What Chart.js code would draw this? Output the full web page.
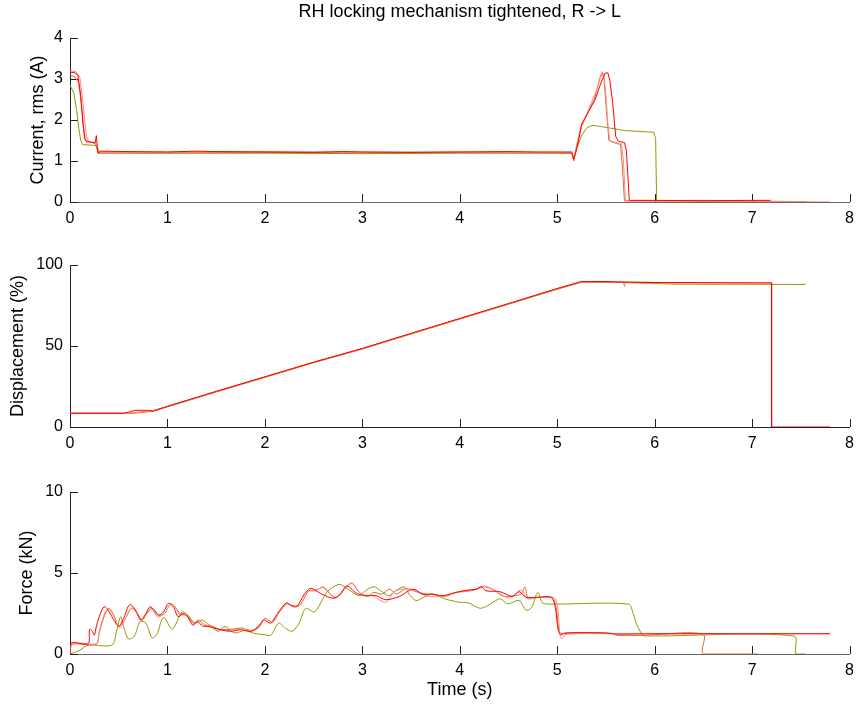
<!DOCTYPE html>
<html><head><meta charset="utf-8">
<script src="https://cdn.jsdelivr.net/npm/chart.js@4.4.0/dist/chart.umd.min.js"></script>
<style>
html,body{margin:0;padding:0;background:#fff;}
#wrap{position:relative;width:861px;height:707px;overflow:hidden;}
canvas{position:absolute;left:0;}
</style></head><body>
<div id="wrap">
<canvas id="c1" width="861" height="226" style="top:0px"></canvas>
<canvas id="c2" width="861" height="225" style="top:226px"></canvas>
<canvas id="c3" width="861" height="256" style="top:451px"></canvas>
</div>
<script>
// ---------- tick labels / texts ----------
const chartTitle = 'RH locking mechanism tightened, R -> L';
const xLabel = 'Time (s)';
const yLabels = ['Current, rms (A)', 'Displacement (%)', 'Force (kN)'];
const xTicks = [0, 1, 2, 3, 4, 5, 6, 7, 8];
const currentTicks = [0, 1, 2, 3, 4];
const dispTicks = [0, 50, 100];
const forceTicks = [0, 5, 10];
const seriesColors = ['#ff0000', '#ff8a80', '#d4703c', '#979700'];

// ---------- Current, rms (A) : [time, value] ----------
const curRed = [[0,3.17],[0.05,3.15],[0.08,3.1],[0.11,2.6],[0.13,2.0],[0.15,1.55],[0.17,1.47],[0.26,1.45],[0.27,1.62],[0.28,1.35],[0.29,1.18],[0.31,1.24],[0.6,1.23],[1,1.22],[1.3,1.24],[1.5,1.23],[2,1.22],[2.5,1.21],[2.8,1.23],[3,1.22],[3.5,1.21],[4,1.22],[4.5,1.23],[4.8,1.22],[5,1.22],[5.15,1.22],[5.17,1.05],[5.2,1.3],[5.22,1.5],[5.25,1.9],[5.32,2.2],[5.39,2.5],[5.44,2.85],[5.49,3.14],[5.52,3.15],[5.54,2.96],[5.57,2.4],[5.6,1.6],[5.63,1.48],[5.69,1.45],[5.71,1.25],[5.74,0.04],[6,0.04],[6.5,0.03],[7,0.04],[7.19,0.04]];
const curPink = [[0,3.2],[0.06,3.18],[0.1,3.05],[0.13,2.5],[0.15,2.0],[0.17,1.6],[0.19,1.48],[0.26,1.43],[0.28,1.35],[0.3,1.22],[1,1.22],[2,1.23],[3,1.22],[4,1.22],[5,1.21],[5.15,1.2],[5.17,1.05],[5.2,1.35],[5.23,1.7],[5.27,1.95],[5.33,2.3],[5.4,2.7],[5.44,3.05],[5.46,3.18],[5.48,3.1],[5.5,2.6],[5.52,1.9],[5.54,1.5],[5.6,1.45],[5.66,1.42],[5.68,1.0],[5.7,0.03],[6,0.02],[7,0.02],[7.8,0.0]];
const curBrown = [[0,3.1],[0.05,3.05],[0.09,2.9],[0.12,2.3],[0.14,1.8],[0.16,1.5],[0.26,1.42],[0.29,1.2],[1,1.2],[2,1.21],[3,1.2],[4,1.21],[5,1.2],[5.15,1.19],[5.17,1.0],[5.2,1.4],[5.25,1.85],[5.32,2.2],[5.38,2.5],[5.43,2.95],[5.46,3.15],[5.48,3.0],[5.51,2.1],[5.53,1.5],[5.58,1.45],[5.65,1.4],[5.67,0.8],[5.69,0.03],[6.5,0.04],[7.05,0.02]];
const curOlive = [[0,2.85],[0.04,2.65],[0.07,2.2],[0.09,1.8],[0.11,1.5],[0.13,1.4],[0.27,1.38],[0.29,1.2],[0.31,1.19],[1,1.19],[2,1.19],[3,1.18],[4,1.19],[5,1.19],[5.15,1.18],[5.17,1.02],[5.2,1.3],[5.25,1.62],[5.3,1.8],[5.36,1.87],[5.45,1.84],[5.55,1.8],[5.7,1.74],[5.85,1.72],[5.99,1.7],[6.01,1.55],[6.02,0.03],[6.5,0.02],[7,0.02],[7.55,0.01]];

// ---------- Displacement (%) ----------
const dispRed = [[0,8.5],[0.55,8.5],[0.62,9.5],[0.67,10.3],[0.8,10.3],[0.85,9.8],[1,12.8],[1.5,22],[2,31],[2.5,40],[3,48.5],[3.5,57.8],[4,67],[4.5,76.2],[5,85.5],[5.25,89.8],[5.5,89.8],[5.6,89.5],[6,89.2],[7,89],[7.2,89],[7.2,0],[7.8,0]];
const dispPink = [[0,8.6],[0.6,8.6],[0.85,10],[1,12.7],[1.5,21.9],[2,30.9],[2.5,40],[3,48.4],[3.5,57.7],[4,66.9],[4.5,76.1],[5,85.4],[5.25,89.7],[5.55,89.7],[5.68,89.3],[5.69,86.5],[5.7,89.2],[6,89],[7,88.9],[7.2,88.9]];
const dispBrown = [[0,8.4],[0.6,8.4],[0.85,9.9],[1,12.6],[1.5,21.8],[2,30.8],[2.5,39.9],[3,48.3],[3.5,57.6],[4,66.8],[4.5,76],[5,85.3],[5.25,89.6],[5.6,89.5],[6.1,89.2],[6.24,89]];
const dispOlive = [[0,8.3],[0.6,8.3],[0.85,9.6],[1,12.4],[1.5,21.6],[2,30.6],[2.5,39.7],[3,48.1],[3.5,57.4],[4,66.6],[4.5,75.8],[5,85],[5.25,89.4],[5.6,89.3],[6.2,88.2],[7.55,88]];

// ---------- Force (kN) ----------
const forceRed = [[0,0.05],[0.01,0.66],[0.05,0.7],[0.1,0.65],[0.19,0.65],[0.2,1.52],[0.23,1.4],[0.25,1.17],[0.27,1.68],[0.3,2.3],[0.35,2.92],[0.39,2.72],[0.44,2.2],[0.5,1.72],[0.55,2.2],[0.6,2.97],[0.63,3.03],[0.68,2.63],[0.73,2.1],[0.78,2.5],[0.82,2.92],[0.87,2.68],[0.91,2.4],[0.96,2.6],[1.01,3.13],[1.06,2.92],[1.11,2.3],[1.16,2.5],[1.21,2.26],[1.26,1.78],[1.31,2.0],[1.36,1.72],[1.41,1.7],[1.48,1.6],[1.57,1.46],[1.65,1.4],[1.75,1.5],[1.86,1.4],[1.92,1.6],[1.99,2.1],[2.06,1.9],[2.13,2.5],[2.22,3.17],[2.26,3.03],[2.33,2.97],[2.4,3.65],[2.47,4.06],[2.54,3.85],[2.6,3.65],[2.7,3.44],[2.77,3.65],[2.84,4.2],[2.94,3.75],[3.03,3.6],[3.14,3.6],[3.24,3.35],[3.38,3.55],[3.52,4.0],[3.62,3.7],[3.72,3.7],[3.82,3.6],[3.93,3.75],[4.06,3.93],[4.17,4.0],[4.22,4.15],[4.27,3.9],[4.41,3.85],[4.54,3.55],[4.61,3.85],[4.68,3.5],[4.8,3.5],[4.94,3.5],[4.98,2.9],[5.01,1.48],[5.04,1.17],[5.08,1.3],[5.5,1.3],[5.6,1.23],[6,1.25],[7,1.25],[7.8,1.25]];
const forcePink = [[0,0.05],[0.02,0.65],[0.1,0.68],[0.27,0.65],[0.3,1.4],[0.36,2.6],[0.4,2.8],[0.45,2.3],[0.51,1.6],[0.57,2.2],[0.63,2.85],[0.68,2.6],[0.72,2.1],[0.78,2.5],[0.83,2.8],[0.9,2.3],[0.97,2.5],[1.03,3.1],[1.08,2.85],[1.13,2.4],[1.19,2.4],[1.27,1.85],[1.33,2.05],[1.38,1.75],[1.45,1.7],[1.53,1.5],[1.62,1.45],[1.7,1.5],[1.77,1.6],[1.86,1.42],[1.95,1.7],[2.0,2.2],[2.08,1.95],[2.15,2.6],[2.22,3.1],[2.3,2.9],[2.36,3.0],[2.44,3.85],[2.52,3.9],[2.6,4.15],[2.66,3.8],[2.72,3.45],[2.8,3.9],[2.89,4.4],[2.99,3.7],[3.1,3.6],[3.24,3.2],[3.34,3.9],[3.5,4.0],[3.65,3.6],[3.82,3.55],[3.99,3.85],[4.13,3.93],[4.25,4.2],[4.37,3.9],[4.51,3.45],[4.63,3.95],[4.7,3.4],[4.82,3.5],[4.98,3.4],[5.03,1.1],[5.05,0.95],[5.09,1.22],[5.6,1.25],[6,1.25],[7,1.25],[7.8,1.25]];
const forceBrown = [[0,0.05],[0.02,0.6],[0.27,0.6],[0.3,1.3],[0.35,2.3],[0.4,2.8],[0.45,2.4],[0.5,1.7],[0.56,2.1],[0.63,2.8],[0.69,2.5],[0.74,2.1],[0.8,2.6],[0.84,2.8],[0.9,2.4],[0.97,2.5],[1.03,3.1],[1.08,2.9],[1.13,2.5],[1.2,2.4],[1.27,1.9],[1.32,2.1],[1.38,1.8],[1.45,1.75],[1.52,1.55],[1.6,1.5],[1.68,1.55],[1.77,1.6],[1.86,1.45],[1.95,1.8],[2.0,2.2],[2.07,2.0],[2.15,2.6],[2.23,3.1],[2.3,2.9],[2.37,3.1],[2.45,3.9],[2.52,3.95],[2.6,4.1],[2.67,3.7],[2.73,3.5],[2.8,3.9],[2.89,4.35],[2.97,3.8],[3.05,3.55],[3.12,3.8],[3.2,3.7],[3.28,4.0],[3.35,3.7],[3.45,4.05],[3.55,3.85],[3.65,3.7],[3.75,3.65],[3.85,3.55],[3.95,3.8],[4.05,3.85],[4.15,3.95],[4.25,4.15],[4.35,3.95],[4.45,3.55],[4.55,3.6],[4.63,3.7],[4.67,4.15],[4.7,3.5],[4.8,3.5],[4.95,3.45],[4.99,2.8],[5.02,1.4],[5.05,1.25],[5.1,1.28],[5.55,1.28],[5.62,1.15],[5.9,1.15],[6.0,1.2],[6.5,1.2],[6.5,0],[7.06,0]];
const forceOlive = [[0,0],[0.09,0.2],[0.19,0.55],[0.43,0.55],[0.48,1.48],[0.52,2.3],[0.55,1.7],[0.6,0.93],[0.66,1.1],[0.72,2.0],[0.78,1.9],[0.84,1.0],[0.89,1.2],[0.96,2.26],[1.05,1.54],[1.15,2.6],[1.21,2.4],[1.28,1.9],[1.35,2.1],[1.43,1.8],[1.52,1.4],[1.59,1.7],[1.69,1.3],[1.79,1.45],[1.89,1.27],[1.99,1.2],[2.06,1.15],[2.14,1.9],[2.21,1.6],[2.28,1.4],[2.35,1.9],[2.42,2.82],[2.51,2.6],[2.64,3.85],[2.76,4.3],[2.83,4.1],[2.89,3.85],[2.97,3.6],[3.03,3.9],[3.12,4.15],[3.19,3.9],[3.27,3.6],[3.34,3.9],[3.43,4.15],[3.48,3.7],[3.55,3.3],[3.63,3.5],[3.72,3.7],[3.85,3.4],[3.99,3.2],[4.09,3.15],[4.2,2.83],[4.26,2.9],[4.37,3.3],[4.42,3.4],[4.49,3.1],[4.61,3.3],[4.68,2.7],[4.74,2.9],[4.8,3.8],[4.85,3.15],[4.94,3.08],[5.73,3.08],[5.78,2.5],[5.81,1.9],[5.86,1.3],[5.89,1.12],[7.43,1.11],[7.45,0],[7.55,0]];

// ---------- setup ----------
Chart.defaults.font.family = "'Liberation Sans', Arial, Helvetica, sans-serif";
Chart.defaults.font.size = 16;
Chart.defaults.color = '#000';

const inwardTicks = {
  id: 'inwardTicks',
  beforeDatasetsDraw(chart) {
    const ctx = chart.ctx, a = chart.chartArea;
    const xs = chart.scales.x, ys = chart.scales.y;
    ctx.save();
    ctx.strokeStyle = '#222';
    ctx.lineWidth = 1;
    ctx.beginPath();
    xs.ticks.forEach(t => {
      const px = Math.round(xs.getPixelForValue(t.value)) + 0.5;
      ctx.moveTo(px, a.bottom); ctx.lineTo(px, a.bottom - 8);
    });
    ys.ticks.forEach(t => {
      const py = Math.round(ys.getPixelForValue(t.value)) + 0.5;
      ctx.moveTo(a.left, py); ctx.lineTo(a.left + 8, py);
    });
    ctx.stroke();
    ctx.restore();
  }
};

function toXY(arr) { return arr.map(p => ({x: p[0], y: p[1]})); }

function makeChart(id, series, yTicks, yTitle, yTitlePad, padTop, xHeight, xAxisColor, tension, extra) {
  const ds = series.map((s, i) => ({
    data: toXY(s), borderColor: seriesColors[i], borderWidth: 1,
    pointRadius: 0, fill: false, tension: tension
  }));
  const cfg = {
    type: 'line',
    data: { datasets: ds },
    options: {
      responsive: false, animation: false,
      layout: { padding: { left: 0, right: 9, top: padTop, bottom: 0 } },
      plugins: { legend: { display: false }, tooltip: { enabled: false }, title: { display: false } },
      scales: {
        x: {
          type: 'linear', min: xTicks[0], max: xTicks[xTicks.length - 1],
          afterBuildTicks: s => { s.ticks = xTicks.map(v => ({value: v})); },
          afterFit: s => { s.height = xHeight; },
          grid: { display: false, drawTicks: false },
          border: { display: true, color: xAxisColor, width: 1 },
          ticks: { padding: 7, font: { size: 16 }, color: '#000', maxRotation: 0 },
          title: { display: false }
        },
        y: {
          type: 'linear', min: yTicks[0], max: yTicks[yTicks.length - 1],
          afterBuildTicks: s => { s.ticks = yTicks.map(v => ({value: v})); },
          afterFit: s => { s.width = 70; },
          grid: { display: false, drawTicks: false },
          border: { display: true, color: '#222', width: 1 },
          ticks: { padding: 7, font: { size: 16 }, color: '#000' },
          title: { display: true, text: yTitle, font: { size: 18 }, color: '#000',
                   padding: { top: yTitlePad, bottom: yTitlePad } }
        }
      }
    },
    plugins: [inwardTicks]
  };
  if (extra) extra(cfg);
  return new Chart(document.getElementById(id), cfg);
}

makeChart('c1', [curRed, curPink, curBrown, curOlive], currentTicks, yLabels[0], 27.2, 0, 24, '#666', 0, cfg => {
  cfg.options.plugins.title = { display: true, text: chartTitle, fullSize: false,
    font: { size: 18, weight: 'normal' }, color: '#000', padding: { top: 1.2, bottom: 15.2 } };
});
makeChart('c2', [dispRed, dispPink, dispBrown, dispOlive], dispTicks, yLabels[1], 7.2, 39, 24, '#222', 0);
makeChart('c3', [forceRed, forcePink, forceBrown, forceOlive], forceTicks, yLabels[2], 16.2, 41, 53, '#666', 0.3, cfg => {
  cfg.options.scales.x.title = { display: true, text: xLabel, font: { size: 18 }, color: '#000',
    padding: { top: 6.2, bottom: 6.2 } };
});
</script>
</body></html>
